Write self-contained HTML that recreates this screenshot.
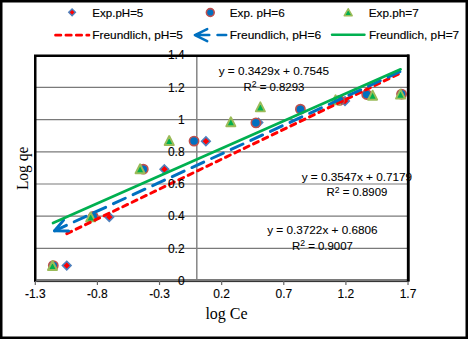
<!DOCTYPE html>
<html><head><meta charset="utf-8"><style>
html,body{margin:0;padding:0;background:#fff;width:468px;height:339px;overflow:hidden}
svg{display:block;font-family:"Liberation Sans",sans-serif}
</style></head><body>
<svg width="468" height="339" viewBox="0 0 468 339"><g stroke="#7a7a7a" stroke-width="1.2"><line x1="36" y1="248.40" x2="407" y2="248.40"/><line x1="36" y1="216.20" x2="407" y2="216.20"/><line x1="36" y1="184.00" x2="407" y2="184.00"/><line x1="36" y1="151.80" x2="407" y2="151.80"/><line x1="36" y1="119.60" x2="407" y2="119.60"/><line x1="36" y1="87.40" x2="407" y2="87.40"/></g>
<line x1="196.8" y1="56" x2="196.8" y2="280" stroke="#858585" stroke-width="1.5"/>
<path d="M66.75 261.30L71.05 265.60L66.75 269.90L62.45 265.60Z" fill="#ff0000" stroke="#4f81bd" stroke-width="1.6"/>
<path d="M109.30 212.75L113.60 217.05L109.30 221.35L105.00 217.05Z" fill="#ff0000" stroke="#4f81bd" stroke-width="1.6"/>
<path d="M164.40 164.95L168.70 169.25L164.40 173.55L160.10 169.25Z" fill="#ff0000" stroke="#4f81bd" stroke-width="1.6"/>
<path d="M205.90 136.90L210.20 141.20L205.90 145.50L201.60 141.20Z" fill="#ff0000" stroke="#4f81bd" stroke-width="1.6"/>
<path d="M258.35 118.30L262.65 122.60L258.35 126.90L254.05 122.60Z" fill="#ff0000" stroke="#4f81bd" stroke-width="1.6"/>
<path d="M345.00 96.80L349.30 101.10L345.00 105.40L340.70 101.10Z" fill="#ff0000" stroke="#4f81bd" stroke-width="1.6"/>
<path d="M368.00 90.20L372.30 94.50L368.00 98.80L363.70 94.50Z" fill="#ff0000" stroke="#4f81bd" stroke-width="1.6"/>
<path d="M401.60 89.80L405.90 94.10L401.60 98.40L397.30 94.10Z" fill="#ff0000" stroke="#4f81bd" stroke-width="1.6"/>
<circle cx="53.30" cy="265.60" r="4.6" fill="#0070c0" stroke="#c0504d" stroke-width="1.65"/>
<circle cx="93.20" cy="216.50" r="4.6" fill="#0070c0" stroke="#c0504d" stroke-width="1.65"/>
<circle cx="143.30" cy="169.20" r="4.6" fill="#0070c0" stroke="#c0504d" stroke-width="1.65"/>
<circle cx="194.05" cy="141.05" r="4.6" fill="#0070c0" stroke="#c0504d" stroke-width="1.65"/>
<circle cx="255.90" cy="122.85" r="4.6" fill="#0070c0" stroke="#c0504d" stroke-width="1.65"/>
<circle cx="300.40" cy="109.20" r="4.6" fill="#0070c0" stroke="#c0504d" stroke-width="1.65"/>
<circle cx="339.60" cy="100.30" r="4.6" fill="#0070c0" stroke="#c0504d" stroke-width="1.65"/>
<circle cx="366.70" cy="94.50" r="4.6" fill="#0070c0" stroke="#c0504d" stroke-width="1.65"/>
<circle cx="401.60" cy="94.10" r="4.6" fill="#0070c0" stroke="#c0504d" stroke-width="1.65"/>
<path d="M52.50 260.95L57.05 269.95L47.95 269.95Z" fill="#00b050" stroke="#9bbb59" stroke-width="1.9" stroke-linejoin="round"/>
<path d="M90.70 212.40L95.25 221.40L86.15 221.40Z" fill="#00b050" stroke="#9bbb59" stroke-width="1.9" stroke-linejoin="round"/>
<path d="M140.10 164.25L144.65 173.25L135.55 173.25Z" fill="#00b050" stroke="#9bbb59" stroke-width="1.9" stroke-linejoin="round"/>
<path d="M169.20 136.05L173.75 145.05L164.65 145.05Z" fill="#00b050" stroke="#9bbb59" stroke-width="1.9" stroke-linejoin="round"/>
<path d="M230.85 117.25L235.40 126.25L226.30 126.25Z" fill="#00b050" stroke="#9bbb59" stroke-width="1.9" stroke-linejoin="round"/>
<path d="M260.35 102.35L264.90 111.35L255.80 111.35Z" fill="#00b050" stroke="#9bbb59" stroke-width="1.9" stroke-linejoin="round"/>
<path d="M335.60 95.30L340.15 104.30L331.05 104.30Z" fill="#00b050" stroke="#9bbb59" stroke-width="1.9" stroke-linejoin="round"/>
<path d="M372.60 90.70L377.15 99.70L368.05 99.70Z" fill="#00b050" stroke="#9bbb59" stroke-width="1.9" stroke-linejoin="round"/>
<path d="M400.50 89.60L405.05 98.60L395.95 98.60Z" fill="#00b050" stroke="#9bbb59" stroke-width="1.9" stroke-linejoin="round"/>
<line x1="66.8" y1="233.7" x2="400.0" y2="73.3" stroke="#ff0000" stroke-width="3" stroke-dasharray="5.3 5.06" stroke-linecap="round"/>
<line x1="54.6" y1="230.8" x2="402.3" y2="70.6" stroke="#0070c0" stroke-width="3" stroke-dasharray="13 8.6" stroke-linecap="round"/>
<path d="M63.6 220.1L54.6 230.8L68.6 230.9" fill="none" stroke="#0070c0" stroke-width="3" stroke-linecap="round" stroke-linejoin="round"/>
<line x1="53.0" y1="223.0" x2="400.6" y2="69.3" stroke="#00b050" stroke-width="2.7" stroke-linecap="round"/>
<line x1="36.5" y1="281.6" x2="407" y2="281.6" stroke="#222" stroke-width="1"/>
<line x1="36.5" y1="280" x2="407" y2="280" stroke="#7a7a7a" stroke-width="2"/>
<path d="M35.25 282V55.75H408.2V282" fill="none" stroke="#000" stroke-width="2.5"/>
<g stroke="#666" stroke-width="1.2"><line x1="35.30" y1="281" x2="35.30" y2="285"/><line x1="97.42" y1="281" x2="97.42" y2="285"/><line x1="159.54" y1="281" x2="159.54" y2="285"/><line x1="221.66" y1="281" x2="221.66" y2="285"/><line x1="283.78" y1="281" x2="283.78" y2="285"/><line x1="345.90" y1="281" x2="345.90" y2="285"/><line x1="408.02" y1="281" x2="408.02" y2="285"/></g>
<g font-family="Liberation Sans, sans-serif" font-size="12" fill="#000" stroke="#000" stroke-width="0.12"><text x="35.3" y="298.4" text-anchor="middle">-1.3</text><text x="97.4" y="298.4" text-anchor="middle">-0.8</text><text x="159.5" y="298.4" text-anchor="middle">-0.3</text><text x="221.7" y="298.4" text-anchor="middle">0.2</text><text x="283.8" y="298.4" text-anchor="middle">0.7</text><text x="345.9" y="298.4" text-anchor="middle">1.2</text><text x="408.0" y="298.4" text-anchor="middle">1.7</text><text x="184.6" y="284.8" text-anchor="end">0</text><text x="184.6" y="252.6" text-anchor="end">0.2</text><text x="184.6" y="220.4" text-anchor="end">0.4</text><text x="184.6" y="188.2" text-anchor="end">0.6</text><text x="184.6" y="156.0" text-anchor="end">0.8</text><text x="184.6" y="123.8" text-anchor="end">1</text><text x="184.6" y="91.6" text-anchor="end">1.2</text><text x="184.6" y="59.4" text-anchor="end">1.4</text></g>
<g font-family="Liberation Sans, sans-serif" font-size="11.4" fill="#000" stroke="#000" stroke-width="0.08"><text x="273.9" y="74.8" text-anchor="middle" textLength="110.4" lengthAdjust="spacingAndGlyphs">y = 0.3429x + 0.7545</text><text x="273.9" y="90.6" text-anchor="middle">R<tspan font-size="8.6" dy="-3.6">2</tspan><tspan dy="3.6"> = 0.8293</tspan></text><text x="356.9" y="180.6" text-anchor="middle" textLength="110.4" lengthAdjust="spacingAndGlyphs">y = 0.3547x + 0.7179</text><text x="356.9" y="196.4" text-anchor="middle">R<tspan font-size="8.6" dy="-3.6">2</tspan><tspan dy="3.6"> = 0.8909</tspan></text><text x="322.4" y="234.2" text-anchor="middle" textLength="110.4" lengthAdjust="spacingAndGlyphs">y = 0.3722x + 0.6806</text><text x="322.4" y="250.0" text-anchor="middle">R<tspan font-size="8.6" dy="-3.6">2</tspan><tspan dy="3.6"> = 0.9007</tspan></text></g>
<line x1="408.2" y1="54.5" x2="408.2" y2="281" stroke="#000" stroke-width="2.6"/>
<text x="226.5" y="318.6" text-anchor="middle" font-family="Liberation Serif, serif" font-size="16">log Ce</text>
<text transform="translate(27.5 168.4) rotate(-90) scale(1 1.1)" text-anchor="middle" font-family="Liberation Serif, serif" font-size="15.5">Log qe</text>
<path d="M72.10 8.95L75.45 12.30L72.10 15.65L68.75 12.30Z" fill="#ff0000" stroke="#4f81bd" stroke-width="1.4"/>
<circle cx="210.30" cy="12.50" r="3.9" fill="#0070c0" stroke="#c0504d" stroke-width="1.6"/>
<path d="M348.20 8.80L352.10 15.70L344.30 15.70Z" fill="#00b050" stroke="#9bbb59" stroke-width="1.6" stroke-linejoin="round"/>
<line x1="55.5" y1="35.2" x2="89" y2="35.2" stroke="#ff0000" stroke-width="2.7" stroke-dasharray="5.4 5" stroke-linecap="round"/>
<path d="M207.2 29.1L194.9 35.1L207.2 41.1M194.9 35.1H209.3M217.5 35.1H226.2" fill="none" stroke="#0070c0" stroke-width="2.5" stroke-linecap="round" stroke-linejoin="round"/>
<line x1="332" y1="34.8" x2="364.5" y2="34.8" stroke="#00b050" stroke-width="2.4" stroke-linecap="round"/>
<g font-family="Liberation Sans, sans-serif" font-size="11.3" fill="#000" stroke="#000" stroke-width="0.15"><text x="92.3" y="16.5" textLength="51" lengthAdjust="spacingAndGlyphs">Exp.pH=5</text><text x="229.8" y="16.5" textLength="54.9" lengthAdjust="spacingAndGlyphs">Exp. pH=6</text><text x="368.7" y="16.5" textLength="50" lengthAdjust="spacingAndGlyphs">Exp.ph=7</text><text x="92.3" y="38.6" textLength="90.6" lengthAdjust="spacingAndGlyphs">Freundlich, pH=5</text><text x="229.8" y="38.6" textLength="91.3" lengthAdjust="spacingAndGlyphs">Freundlich, pH=6</text><text x="368.9" y="38.6" textLength="90.3" lengthAdjust="spacingAndGlyphs">Freundlich, pH=7</text></g>
<path d="M1.25 0V339M0 1.25H468M466.75 0V339M0 337.75H468" stroke="#000" stroke-width="2.5"/></svg>
</body></html>
